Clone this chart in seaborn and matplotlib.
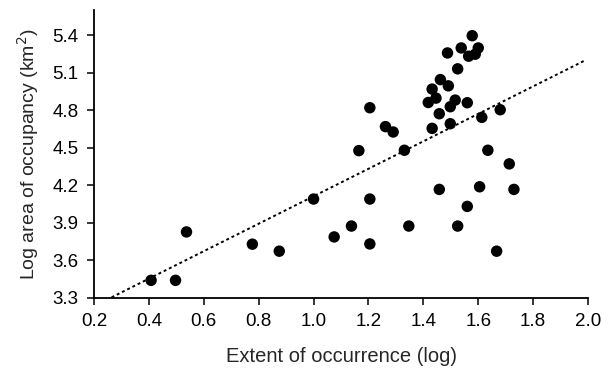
import numpy as np
import pandas as pd
import matplotlib
matplotlib.use("Agg")
import matplotlib.pyplot as plt
import seaborn as sns

# values
extent = [1.205, 1.165, 1.578, 1.538, 1.600, 1.488, 1.565, 1.589, 1.525, 1.462,
          1.491, 1.432, 1.446, 1.418, 1.498, 1.516, 1.560, 1.458, 1.613, 1.680,
          1.432, 1.498, 1.262, 1.290, 1.331, 1.635, 1.713, 1.000, 1.205, 1.458,
          1.605, 1.730, 1.560, 1.138, 1.347, 1.525, 1.075, 0.537, 0.777, 1.205,
          0.875, 1.667, 0.408, 0.497]
occupancy = [4.819, 4.476, 5.395, 5.297, 5.297, 5.257, 5.231, 5.247, 5.130, 5.044,
             4.994, 4.968, 4.896, 4.861, 4.827, 4.880, 4.859, 4.771, 4.742, 4.803,
             4.654, 4.691, 4.668, 4.625, 4.479, 4.479, 4.370, 4.089, 4.089, 4.166,
             4.187, 4.166, 4.030, 3.873, 3.873, 3.873, 3.786, 3.826, 3.728, 3.730,
             3.672, 3.672, 3.439, 3.439]
# dotted trend line end points
trend_x = [0.264, 1.985]
trend_y = [3.303, 5.193]
x_ticks = [0.2, 0.4, 0.6, 0.8, 1.0, 1.2, 1.4, 1.6, 1.8, 2.0]
y_ticks = [3.3, 3.6, 3.9, 4.2, 4.5, 4.8, 5.1, 5.4]

df = pd.DataFrame({"extent": extent, "occupancy": occupancy})
trend = pd.DataFrame({"x": trend_x, "y": trend_y})

sns.set_style("ticks")
plt.rcParams['font.family'] = ['Liberation Sans', 'DejaVu Sans']

fig = plt.figure(figsize=(6.16, 3.78), dpi=100)
ax = fig.add_axes([0.1526, 0.2124, 0.802, 0.761])

sns.lineplot(data=trend, x="x", y="y", ax=ax, color="black",
             linestyle=(0, (1.5, 1.5)), linewidth=1.4, zorder=2)
sns.scatterplot(data=df, x="extent", y="occupancy", ax=ax, color="black",
                s=68, edgecolor="none", zorder=3)

ax.set_xlim(0.2, 2.0)
ax.set_ylim(3.3, 5.6)
ax.set_xticks(x_ticks)
ax.set_yticks(y_ticks)
ax.set_xticklabels([f"{v:.1f}" for v in x_ticks], fontsize=13.5)
ax.set_yticklabels([f"{v:.1f}" for v in y_ticks], fontsize=13.5)
ax.set_xlabel("Extent of occurrence (log)", fontsize=14.5, labelpad=12)
ax.set_ylabel("Log area of occupancy (km$^2$)", fontsize=14, labelpad=8)

sns.despine(ax=ax)
for sp in ["left", "bottom"]:
    ax.spines[sp].set_color("black")
    ax.spines[sp].set_linewidth(1.3)
ax.tick_params(colors="black", length=5, width=1.1, direction="out", pad=6)

fig.savefig("out.png", dpi=100)
